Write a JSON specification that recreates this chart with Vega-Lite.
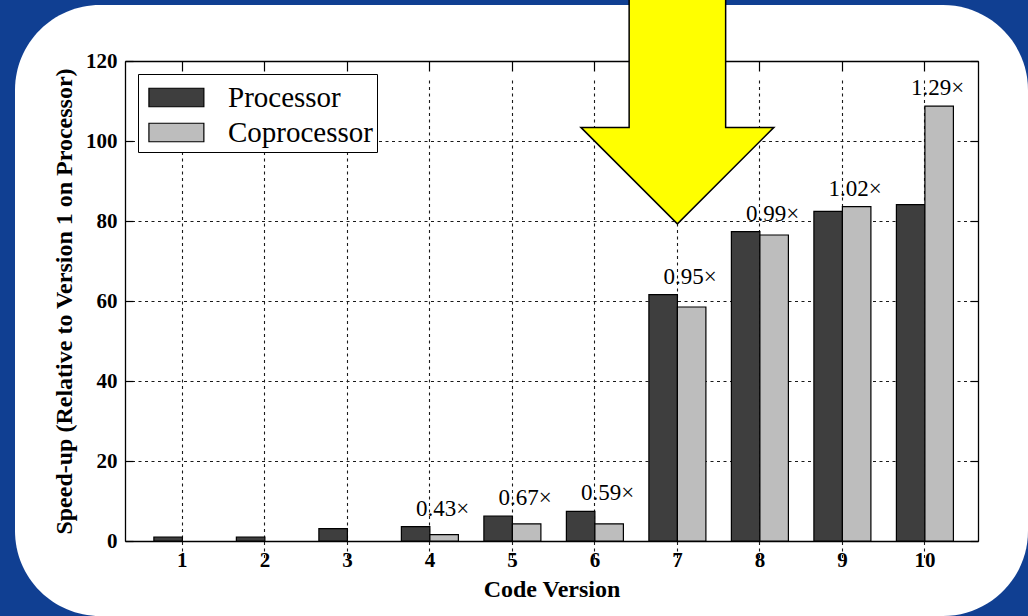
{
  "$schema": "https://vega.github.io/schema/vega-lite/v6.json",
  "width": 1013,
  "height": 611,
  "autosize": {"type": "none"},
  "padding": {"left": 15, "top": 5, "right": 0, "bottom": 0},
  "background": "#103f92",
  "config": {
    "view": {"fill": "white", "stroke": null, "cornerRadius": 85},
    "font": "Liberation Serif",
    "axis": {
      "labelFont": "Liberation Serif",
      "labelFontSize": 21,
      "labelFontWeight": "bold",
      "labelColor": "black",
      "titleFont": "Liberation Serif",
      "titleFontSize": 24,
      "titleFontWeight": "bold",
      "titleColor": "black",
      "domainColor": "black",
      "domainWidth": 1.3,
      "tickColor": "black",
      "tickWidth": 1.2,
      "gridColor": "#1a1a1a",
      "gridDash": [3, 3.5],
      "gridWidth": 1.1,
      "gridOpacity": 1
    }
  },
  "data": {
    "values": [
      {"version": 1, "series": "Processor", "speedup": 1.0},
      {"version": 2, "series": "Processor", "speedup": 1.0},
      {"version": 3, "series": "Processor", "speedup": 3.1},
      {"version": 4, "series": "Processor", "speedup": 3.6},
      {"version": 4, "series": "Coprocessor", "speedup": 1.6, "label": "0.43×"},
      {"version": 5, "series": "Processor", "speedup": 6.25},
      {"version": 5, "series": "Coprocessor", "speedup": 4.3, "label": "0.67×"},
      {"version": 6, "series": "Processor", "speedup": 7.4},
      {"version": 6, "series": "Coprocessor", "speedup": 4.3, "label": "0.59×"},
      {"version": 7, "series": "Processor", "speedup": 61.6},
      {"version": 7, "series": "Coprocessor", "speedup": 58.5, "label": "0.95×"},
      {"version": 8, "series": "Processor", "speedup": 77.35},
      {"version": 8, "series": "Coprocessor", "speedup": 76.5, "label": "0.99×"},
      {"version": 9, "series": "Processor", "speedup": 82.4},
      {"version": 9, "series": "Coprocessor", "speedup": 83.6, "label": "1.02×"},
      {"version": 10, "series": "Processor", "speedup": 84.1},
      {"version": 10, "series": "Coprocessor", "speedup": 108.7, "label": "1.29×"}
    ]
  },
  "layer": [
    {
      "mark": {"type": "bar", "stroke": "black", "strokeWidth": 1.2},
      "encoding": {
        "x": {
          "field": "version",
          "type": "ordinal",
          "scale": {"range": [110, 963], "paddingInner": 0.309, "paddingOuter": 0.324, "align": 0.54},
          "axis": {
            "orient": "bottom",
            "offset": -75,
            "title": "Code Version",
            "titlePadding": 7,
            "labelAngle": 0,
            "grid": true,
            "bandPosition": 0.5,
            "ticks": false,
            "labelPadding": 8
          }
        },
        "xOffset": {
          "field": "series",
          "type": "nominal",
          "scale": {"domain": ["Processor", "Coprocessor"], "paddingInner": 0, "paddingOuter": 0}
        },
        "y": {
          "field": "speedup",
          "type": "quantitative",
          "scale": {"domain": [0, 120], "range": [536, 56], "nice": false},
          "axis": {
            "orient": "left",
            "offset": -110,
            "values": [0, 20, 40, 60, 80, 100, 120],
            "title": "Speed-up (Relative to Version 1 on Processor)",
            "titlePadding": 9,
            "grid": true,
            "tickSize": -8,
            "labelPadding": 16
          }
        },
        "color": {
          "field": "series",
          "type": "nominal",
          "scale": {"domain": ["Processor", "Coprocessor"], "range": ["#3e3e3e", "#bdbdbd"]},
          "legend": {
            "title": null,
            "orient": "none",
            "legendX": 123,
            "legendY": 69,
            "padding": 4,
            "strokeColor": "black",
            "fillColor": "white",
            "symbolType": "M -0.68 -0.5 L 2.29 -0.5 L 2.29 0.5 L -0.68 0.5 Z",
            "symbolSize": 1369,
            "symbolStrokeColor": "black",
            "symbolStrokeWidth": 1.2,
            "symbolOpacity": 1,
            "labelFont": "Liberation Serif",
            "labelFontSize": 29,
            "labelColor": "black",
            "labelOffset": 47,
            "rowPadding": 0
          }
        }
      }
    },
    {
      "transform": [
        {"joinaggregate": [{"op": "max", "field": "speedup", "as": "top"}], "groupby": ["version"]},
        {"filter": "datum.label != null"}
      ],
      "mark": {"type": "text", "font": "Liberation Serif", "fontSize": 23, "align": "left", "baseline": "middle", "dx": -14, "dy": -18, "color": "black"},
      "encoding": {
        "x": {
          "field": "version",
          "type": "ordinal",
          "axis": {
            "orient": "top",
            "offset": -56,
            "title": null,
            "labels": false,
            "grid": false,
            "bandPosition": 0.5,
            "tickSize": -10
          }
        },
        "y": {
          "field": "top",
          "type": "quantitative",
          "axis": {
            "orient": "right",
            "offset": -50,
            "title": null,
            "labels": false,
            "grid": false,
            "values": [0, 20, 40, 60, 80, 100, 120],
            "tickSize": -8
          }
        },
        "text": {"field": "label"}
      }
    },
    {
      "data": {"values": [{}]},
      "mark": {
        "type": "point",
        "shape": "M -0.5 -1.4 L 0.5 -1.4 L 0.5 0 L 1 0 L 0 1 L -1 0 L -0.5 0 Z",
        "size": 37249,
        "filled": true,
        "fill": "#ffff00",
        "stroke": "black",
        "strokeWidth": 1.5,
        "opacity": 1
      },
      "encoding": {
        "x": {"datum": 7, "type": "ordinal", "axis": null},
        "y": {"datum": 103.4, "type": "quantitative", "axis": null}
      }
    }
  ],
  "resolve": {"axis": {"x": "independent", "y": "independent"}}
}
